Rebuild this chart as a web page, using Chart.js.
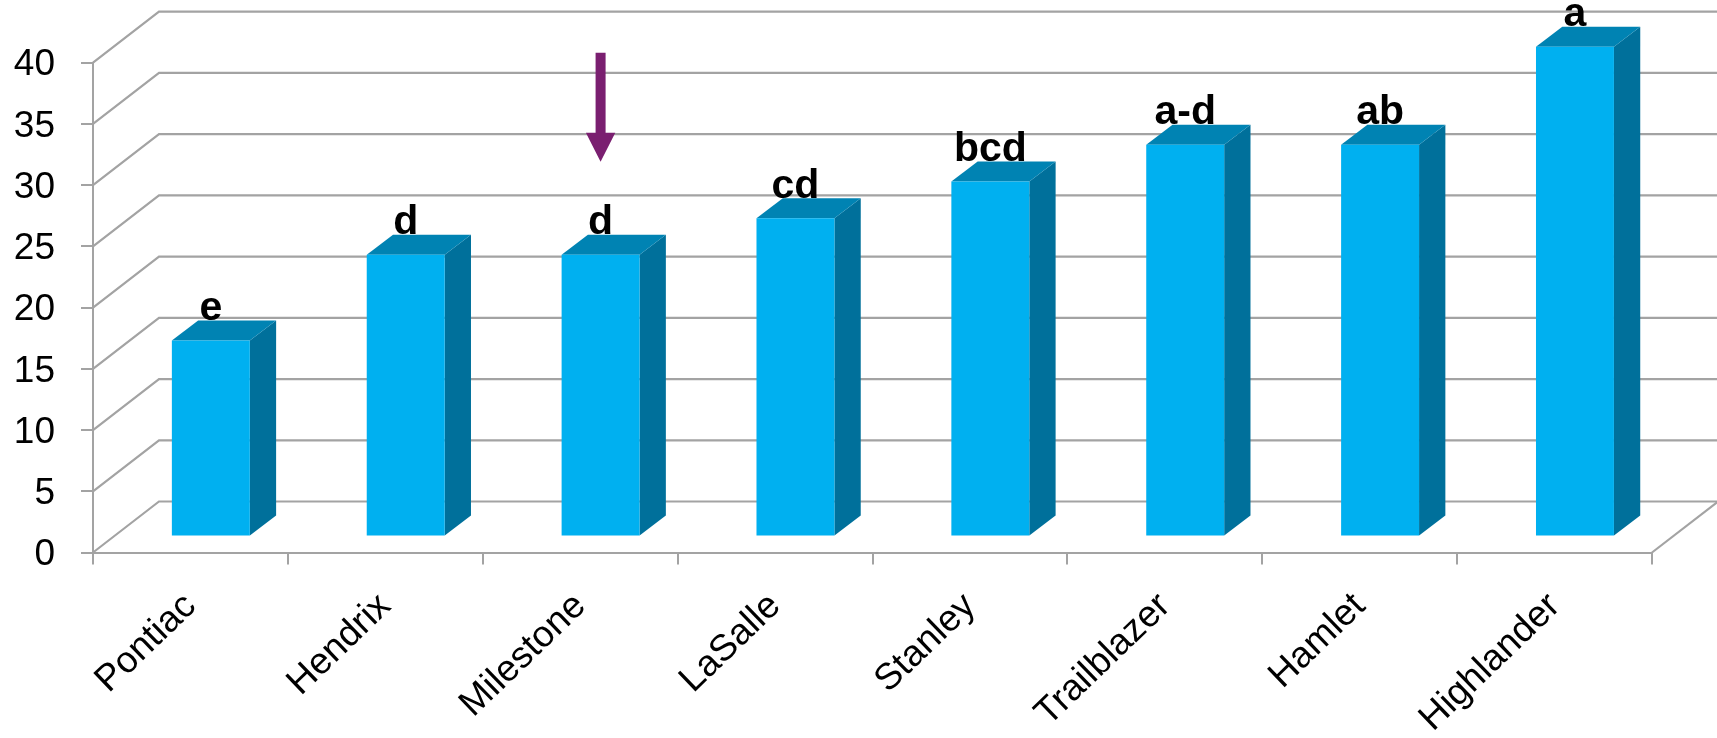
<!DOCTYPE html>
<html>
<head>
<meta charset="utf-8">
<title>Cultivars</title>
<style>
  html, body { margin: 0; padding: 0; background: #ffffff; }
  canvas { display: block; }
</style>
<script src="https://cdn.jsdelivr.net/npm/chart.js@4/dist/chart.umd.min.js"></script>
</head>
<body>
<canvas id="mainChart" width="1717" height="738"></canvas>
<script>
const cultivars = ['Pontiac', 'Hendrix', 'Milestone', 'LaSalle', 'Stanley', 'Trailblazer', 'Hamlet', 'Highlander'];
const values = [16, 23, 23, 26, 29, 32, 32, 40];
const groupLetters = ['e', 'd', 'd', 'cd', 'bcd', 'a-d', 'ab', 'a'];
const markedCultivar = 'Milestone';

const FONT = '"Liberation Sans", Arial, sans-serif';
const GRID = '#a3a3a3';

// fake perspective: back wall offset, bar offset from the front edge, bar depth
const WALL_DX = 66, WALL_DY = 51;
const BAR_DX = 20.4, BAR_DY = 16;
const DEPTH_DX = 26.3, DEPTH_DY = 20;

function polygon(ctx, points, fill) {
    ctx.beginPath();
    points.forEach(([x, y], i) => i ? ctx.lineTo(x, y) : ctx.moveTo(x, y));
    ctx.closePath();
    ctx.fillStyle = fill;
    ctx.fill();
}

const wallPlugin = {
    id: 'wall',
    beforeDatasetsDraw(chart) {
        const { ctx, chartArea, scales: { y } } = chart;
        ctx.save();
        ctx.strokeStyle = GRID;
        ctx.lineWidth = 2.2;
        y.ticks.forEach(tick => {
            const py = y.getPixelForValue(tick.value);
            ctx.beginPath();
            ctx.moveTo(chartArea.left, py);
            ctx.lineTo(chartArea.left + WALL_DX, py - WALL_DY);
            ctx.lineTo(chart.width, py - WALL_DY);
            ctx.stroke();
        });
        // right edge of the floor
        const floor = y.getPixelForValue(0);
        ctx.beginPath();
        ctx.moveTo(chartArea.right, floor);
        ctx.lineTo(chartArea.right + WALL_DX, floor - WALL_DY);
        ctx.stroke();
        ctx.restore();
    }
};

const barBoxPlugin = {
    id: 'barBox',
    beforeDatasetDraw(chart, args) {
        const { ctx } = chart;
        ctx.save();
        ctx.translate(BAR_DX, -BAR_DY);
        args.meta.data.forEach(bar => {
            const l = bar.x - bar.width / 2, r = bar.x + bar.width / 2;
            polygon(ctx, [[r, bar.y], [r + DEPTH_DX, bar.y - DEPTH_DY], [r + DEPTH_DX, bar.base - DEPTH_DY], [r, bar.base]], '#00709b');
            polygon(ctx, [[l, bar.y], [l + DEPTH_DX, bar.y - DEPTH_DY], [r + DEPTH_DX, bar.y - DEPTH_DY], [r, bar.y]], '#0083b3');
        });
    },
    afterDatasetDraw(chart, args) {
        const { ctx } = chart;
        ctx.fillStyle = '#000000';
        ctx.font = 'bold 41px ' + FONT;
        ctx.textAlign = 'center';
        ctx.textBaseline = 'alphabetic';
        args.meta.data.forEach((bar, i) => {
            ctx.fillText(groupLetters[i], bar.x, bar.y - 20.5);
        });

        // purple arrow over the marked cultivar
        const marked = args.meta.data[cultivars.indexOf(markedCultivar)];
        const tip = marked.y - 93;
        polygon(ctx, [
            [marked.x - 5, tip - 109],
            [marked.x + 5, tip - 109],
            [marked.x + 5, tip - 29],
            [marked.x + 14.7, tip - 29],
            [marked.x, tip],
            [marked.x - 14.7, tip - 29],
            [marked.x - 5, tip - 29]
        ], '#7a1f70');
        ctx.restore();
    }
};

new Chart(document.getElementById('mainChart'), {
    type: 'bar',
    data: {
        labels: cultivars,
        datasets: [{
            data: values,
            backgroundColor: '#00b0f0',
            barPercentage: 0.4,
            categoryPercentage: 1,
            clip: false
        }]
    },
    options: {
        responsive: false,
        animation: false,
        layout: { padding: { top: 62.7, right: 65 } },
        plugins: {
            legend: { display: false },
            title: { display: false },
            tooltip: { enabled: false }
        },
        scales: {
            x: {
                afterFit(scale) { scale.height = 185.5; },
                grid: { drawOnChartArea: false, color: GRID, lineWidth: 2, tickLength: 12 },
                border: { color: GRID, width: 2 },
                ticks: {
                    color: '#000000',
                    font: { family: FONT, size: 37 },
                    minRotation: 44,
                    maxRotation: 44,
                    autoSkip: false,
                    padding: 20
                }
            },
            y: {
                min: 0,
                max: 40,
                afterFit(scale) { scale.width = 93; },
                grid: { drawOnChartArea: false, color: GRID, lineWidth: 2, tickLength: 12 },
                border: { color: GRID, width: 2 },
                ticks: {
                    stepSize: 5,
                    color: '#000000',
                    font: { family: FONT, size: 37 },
                    padding: 26,
                    labelOffset: 2.5
                }
            }
        }
    },
    plugins: [wallPlugin, barBoxPlugin]
});
</script>
</body>
</html>
